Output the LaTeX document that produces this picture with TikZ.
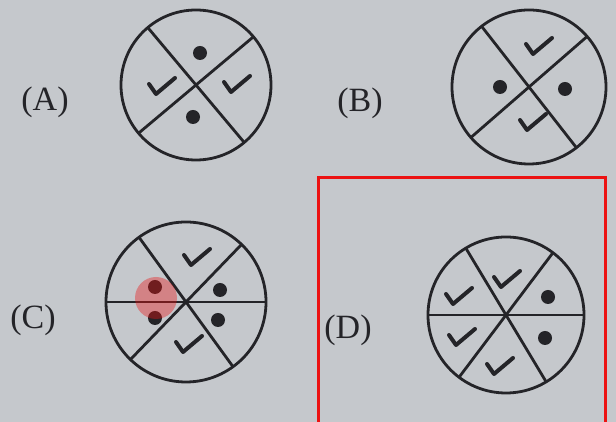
\documentclass[tikz,border=0pt]{standalone}
\usepackage{fontspec}
\setmainfont{Liberation Serif}
\usetikzlibrary{positioning}
\definecolor{paper}{RGB}{197,200,204}
\definecolor{ink}{RGB}{36,36,40}
\definecolor{markred}{RGB}{236,18,18}

\begin{document}
\begin{tikzpicture}[x=1pt,y=1pt,
   disc/.style={draw=ink,line width=2.8pt,circle,inner sep=0pt,outer sep=0pt},
   cut/.style={draw=ink,line width=2.8pt},
   lbl/.style={font=\fontsize{34}{34}\selectfont,text=ink},
   spot/.style={fill=ink,circle,minimum size=14pt,inner sep=0pt},
   tick/.pic={\draw[ink,line width=4pt,line cap=round,line join=round]
              (-12,3) -- (-5,-7) -- (14,9);}]
  \fill[paper] (0,0) rectangle (616,422);
  \clip (0,0) rectangle (616,422);

  % (A)
  \node[lbl] (la) at (45,320) {(A)};
  \node[disc,minimum size=150pt] (ca) at (196,337) {};
  \draw[cut] (ca.130) -- (ca.310);
  \draw[cut] (ca.40) -- (ca.220);
  \node[spot] (a1) at (200,369) {};
  \node[spot] (a2) at (193,305) {};
  \pic (ta1) at (161,335) {tick};
  \pic (ta2) at (236,337) {tick};

  % (B)
  \node[lbl] (lb) at (360,319) {(B)};
  \node[disc,minimum size=154pt] (cb) at (529,335) {};
  \draw[cut] (cb.128) -- (cb.308);
  \draw[cut] (cb.41) -- (cb.221);
  \node[spot] (b1) at (500,335) {};
  \node[spot] (b2) at (565,333) {};
  \pic (tb1) at (538,375) {tick};
  \pic (tb2) at (532,299) {tick};

  % (C)
  \node[lbl] (lc) at (33,102) {(C)};
  \node[disc,minimum size=160pt] (cc) at (186,120) {};
  \draw[cut] (cc.180) -- (cc.0);
  \draw[cut] (cc.126) -- (cc.306);
  \draw[cut] (cc.46) -- (cc.226);
  \foreach \p/\n in {{(220,132)}/c1,{(218,102)}/c2,{(155,135)}/c3,{(155,104)}/c4}
     \node[spot] (\n) at \p {};
  \pic (tc1) at (196,164) {tick};
  \pic (tc2) at (188,77) {tick};
  \node[circle,fill=markred,fill opacity=0.38,minimum size=42pt] (hl) at (156,124) {};

  % (D)
  \node[lbl] (ld) at (348,92) {(D)};
  \node[disc,minimum size=156pt] (cd) at (506,107) {};
  \draw[cut] (cd.180) -- (cd.0);
  \draw[cut] (cd.121) -- (cd.301);
  \draw[cut] (cd.53) -- (cd.233);
  \node[spot] (d1) at (548,125) {};
  \node[spot] (d2) at (545,84) {};
  \foreach \p/\n in {{(458,125)}/td1,{(506,142)}/td2,{(461,84)}/td3,{(499,55)}/td4}
     \pic (\n) at \p {tick};

  \draw[markred,line width=3pt] (318,-10) -- (318,244) -- (605,244) -- (605,-10);
\end{tikzpicture}
\end{document}
